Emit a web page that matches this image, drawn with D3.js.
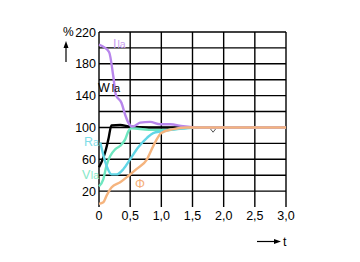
<!DOCTYPE html>
<html>
<head>
<meta charset="utf-8">
<script src="https://cdn.jsdelivr.net/npm/d3@7"></script>
<style>
  body { margin: 0; background: #fff; }
  text { font-family: "Liberation Sans", Arial, sans-serif; }
</style>
</head>
<body>
<div id="chart"></div>
<script>
// values (t in s, value in %)
var xTicks = [0, 0.5, 1.0, 1.5, 2.0, 2.5, 3.0];
var yTicks = [20, 60, 100, 140, 180, 220];

var ilaT = [0, 0.16, 0.23, 0.27, 0.36, 0.42, 0.47, 0.54, 0.66, 0.82, 0.98, 1.14, 1.35, 1.6, 3.0];
var ilaV = [204, 195, 164, 141, 131, 116, 106, 101, 106, 107, 104, 104, 101.5, 100, 100];

var wlaT = [0, 0.07, 0.11, 0.15, 0.2, 0.34, 0.5, 0.8, 1.4];
var wlaV = [50, 62, 72, 85, 102.5, 103, 101, 100, 100];

var raT = [0.02, 0.12, 0.2, 0.28, 0.39, 0.5, 0.63, 0.77, 0.87, 1.0, 1.25, 1.6, 3.0];
var raV = [81, 52, 41, 41, 47.5, 60, 75, 87, 93, 95, 98, 100, 100];

var vlaT = [0, 0.07, 0.12, 0.18, 0.26, 0.34, 0.42, 0.47, 0.52, 0.8, 1.1, 1.5, 3.0];
var vlaV = [26, 35, 52, 64, 72.5, 77, 85, 95, 99, 97, 97, 100, 100];

var phiT = [0, 0.07, 0.12, 0.2, 0.34, 0.47, 0.6, 0.77, 0.87, 1.0, 1.19, 1.4, 3.0];
var phiV = [4, 6, 14, 24.6, 31, 39, 47.5, 60, 76.6, 93, 98, 100, 100];

var W = 360, H = 262;
var svg = d3.select("#chart").append("svg")
  .attr("width", W)
  .attr("height", H);

var x = d3.scaleLinear().domain([0, 3]).range([99, 286]);
var y = d3.scaleLinear().domain([0, 220]).range([207, 32]);

// grid
svg.append("g")
  .selectAll("line")
  .data(d3.range(20, 221, 20))
  .enter().append("line")
  .attr("x1", x(0)).attr("x2", x(3))
  .attr("y1", function (d) { return y(d); })
  .attr("y2", function (d) { return y(d); })
  .style("stroke", "#000").style("stroke-width", 1.4);

svg.append("g")
  .selectAll("line")
  .data(xTicks)
  .enter().append("line")
  .attr("x1", function (d) { return x(d); })
  .attr("x2", function (d) { return x(d); })
  .attr("y1", y(0)).attr("y2", y(220))
  .style("stroke", "#000").style("stroke-width", 1.4);

// tick labels
svg.append("g")
  .selectAll("text")
  .data(yTicks)
  .enter().append("text")
  .attr("x", 96)
  .attr("y", function (d) { return y(d) + 4.5; })
  .attr("text-anchor", "end")
  .style("font-size", "12.5px")
  .text(function (d) { return d; });

svg.append("g")
  .selectAll("text")
  .data(xTicks)
  .enter().append("text")
  .attr("x", function (d) { return x(d); })
  .attr("y", 220)
  .attr("text-anchor", "middle")
  .style("font-size", "12.5px")
  .text(function (d) { return d === 0 ? "0" : d.toFixed(1).replace(".", ","); });

// axis names with arrows
svg.append("text").attr("x", 63).attr("y", 36).style("font-size", "12px").text("%");
svg.append("line").attr("x1", 66).attr("x2", 66).attr("y1", 62).attr("y2", 47)
  .style("stroke", "#000").style("stroke-width", 1.2);
svg.append("path").attr("d", "M63.5,48 L66,41 L68.5,48 Z").style("fill", "#000");

svg.append("line").attr("x1", 257).attr("x2", 275).attr("y1", 241.5).attr("y2", 241.5)
  .style("stroke", "#000").style("stroke-width", 1.2);
svg.append("path").attr("d", "M274,239 L281,241.5 L274,244 Z").style("fill", "#000");
svg.append("text").attr("x", 283).attr("y", 246).style("font-size", "12.5px").text("t");

// curves
var line = d3.line()
  .x(function (d) { return x(d[0]); })
  .y(function (d) { return y(d[1]); })
  .curve(d3.curveMonotoneX);

function drawSeries(ts, vs, color) {
  svg.append("path")
    .datum(d3.zip(ts, vs))
    .attr("d", line)
    .style("fill", "none")
    .style("stroke", color)
    .style("stroke-width", 2.4)
    .style("stroke-linejoin", "round");
}

drawSeries(wlaT, wlaV, "#000000");
drawSeries(vlaT, vlaV, "#6ee6bf");
drawSeries(raT, raV, "#62d6e6");
drawSeries(ilaT, ilaV, "#b886ec");
drawSeries(phiT, phiV, "#f5b47e");

// small marker near t=1.83
svg.append("path")
  .attr("d", "M" + (x(1.83) - 2.5) + "," + (y(98)) + " L" + x(1.83) + "," + (y(94)) + " L" + (x(1.83) + 2.5) + "," + y(98))
  .style("fill", "none").style("stroke", "#555").style("stroke-width", 1);

// series labels
function label(xp, yp, main, sub, color, gap) {
  var t = svg.append("text").attr("x", xp).attr("y", yp).style("fill", color).style("font-size", "12.5px");
  t.append("tspan").text(main);
  if (sub) t.append("tspan").style("font-size", "10.5px").attr("dx", gap).text(sub);
}
label(113, 48, "I", "la", "#c9a0f0", 1);
label(98, 92, "W", "la", "#000", 2);
label(84, 146, "R", "a", "#7fdde8", 0);
label(82, 179, "V", "la", "#85e8c8", 0.5);
label(135, 188, "Φ", null, "#f5b07a", 0);
</script>
</body>
</html>
